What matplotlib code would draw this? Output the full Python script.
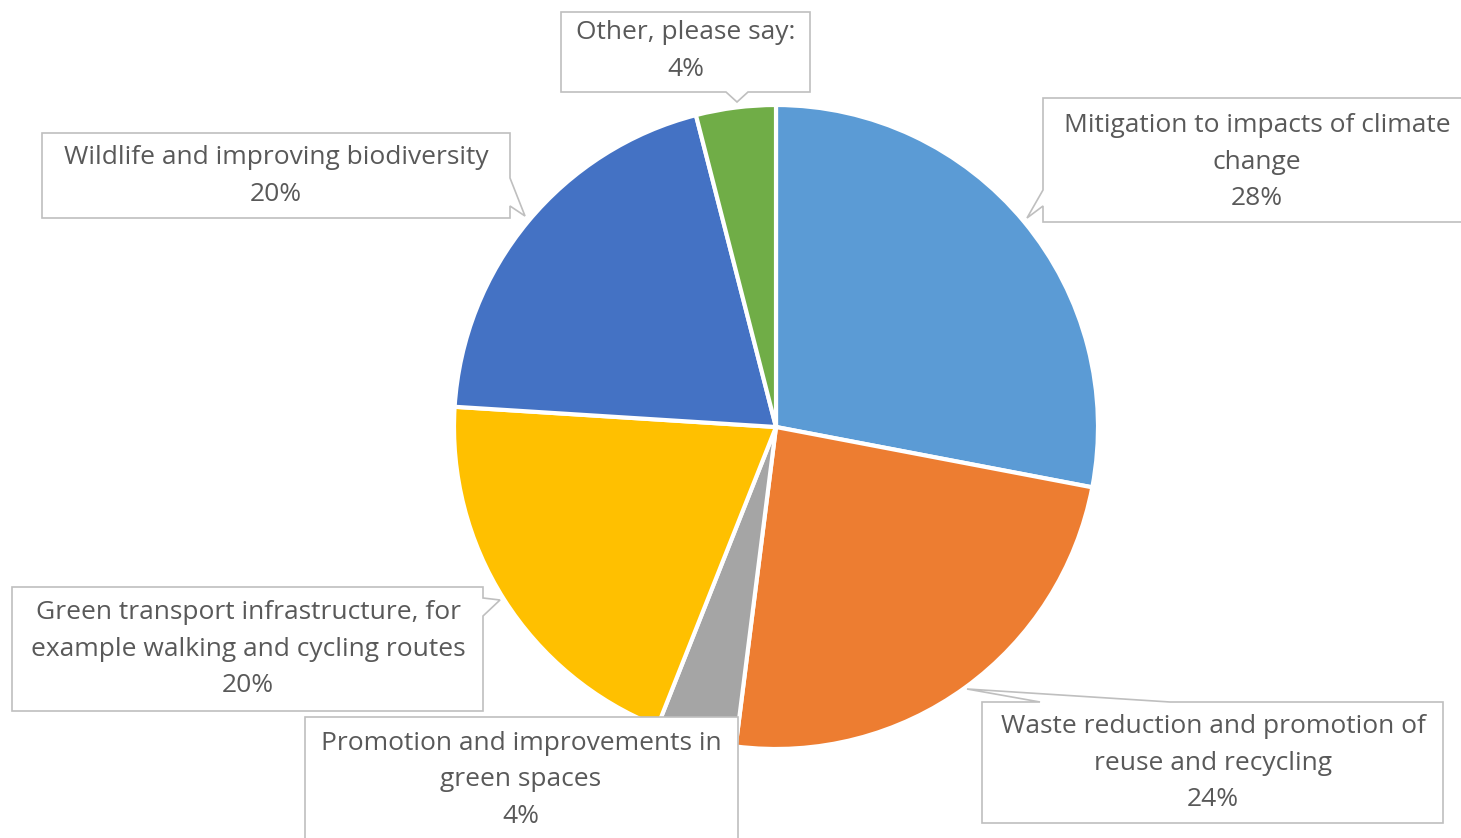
import matplotlib.pyplot as plt
from matplotlib.patches import Polygon

# data
labels = ["Mitigation to impacts of climate\nchange",
          "Waste reduction and promotion of\nreuse and recycling",
          "Promotion and improvements in\ngreen spaces",
          "Green transport infrastructure, for\nexample walking and cycling routes",
          "Wildlife and improving biodiversity",
          "Other, please say:"]
shares = [28, 24, 4, 20, 20, 4]
colors = ["#5B9BD5", "#ED7D31", "#A5A5A5", "#FFC000", "#4472C4", "#70AD47"]

W, H = 1461, 838
fig = plt.figure(figsize=(W / 100, H / 100), dpi=100)
ax = fig.add_axes([0, 0, 1, 1])

ax.pie(shares, colors=colors, startangle=90, counterclock=False,
       center=(776, H - 427), radius=322, frame=True,
       wedgeprops=dict(edgecolor="white", linewidth=3))
ax.set_xlim(0, W)
ax.set_ylim(0, H)
ax.axis("off")

# callout outlines (pixel coords, y from top) and text centres
callouts = [
    [(1043, 98), (1480, 98), (1480, 222), (1043, 222), (1043, 206), (1027, 218), (1043, 190)],
    [(982, 702), (1040, 702), (967, 689), (1170, 702), (1443, 702), (1443, 823), (982, 823)],
    [(305, 717), (738, 717), (738, 845), (305, 845)],
    [(12, 587), (483, 587), (483, 598), (500, 600), (483, 616), (483, 711), (12, 711)],
    [(42, 133), (510, 133), (510, 178), (525, 216), (510, 206), (510, 218), (42, 218)],
    [(561, 12), (810, 12), (810, 92), (748, 92), (737, 102), (726, 92), (561, 92)],
]
text_pos = [(1257, 162), (1213, 763), (521, 780), (248, 649), (276, 176), (686, 51)]

for i in range(len(shares)):
    pts = [(x, H - y) for x, y in callouts[i]]
    ax.add_patch(Polygon(pts, closed=True, facecolor="white",
                         edgecolor="#BFBFBF", linewidth=1.2, zorder=3))
    x, y = text_pos[i]
    ax.text(x, H - y, f"{labels[i]}\n{shares[i]}%", ha="center", va="center",
            fontsize=19, color="#595959", family="Open Sans",
            linespacing=1.63, zorder=4)

fig.savefig("out.png", dpi=100)
